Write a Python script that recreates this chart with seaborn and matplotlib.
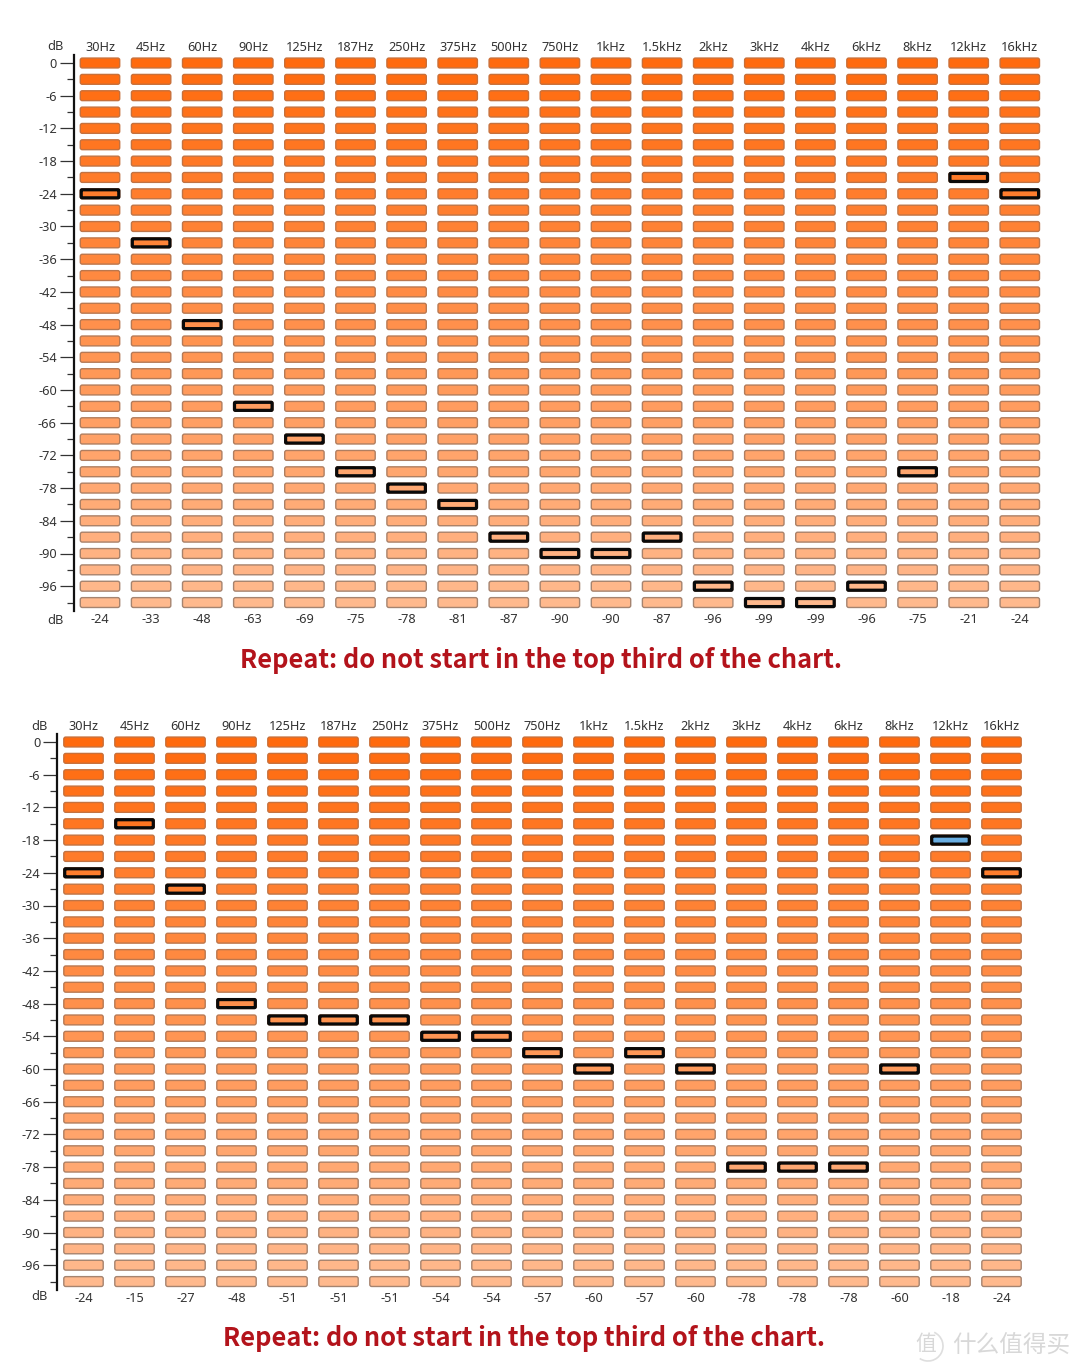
import matplotlib.pyplot as plt
import pandas as pd
import seaborn as sns
from matplotlib.markers import MarkerStyle
from matplotlib.patches import Arc, BoxStyle

sns.set_theme(style="white")
plt.rcParams["font.family"] = ["Noto Sans", "DejaVu Sans"]

bands = ["30Hz", "45Hz", "60Hz", "90Hz", "125Hz", "187Hz", "250Hz", "375Hz", "500Hz", "750Hz",
         "1kHz", "1.5kHz", "2kHz", "3kHz", "4kHz", "6kHz", "8kHz", "12kHz", "16kHz"]
levels = [0, -3, -6, -9, -12, -15, -18, -21, -24, -27, -30, -33, -36, -39, -42, -45, -48,
          -51, -54, -57, -60, -63, -66, -69, -72, -75, -78, -81, -84, -87, -90, -93, -96, -99]
major_levels = [0, -6, -12, -18, -24, -30, -36, -42, -48, -54, -60, -66, -72, -78, -84, -90, -96]
top_values = [-24, -33, -48, -63, -69, -75, -78, -81, -87, -90, -90, -87, -96, -99, -99, -96, -75, -21, -24]
bottom_values = [-24, -15, -27, -48, -51, -51, -51, -54, -54, -57, -60, -57, -60, -78, -78, -78, -60, -18, -24]
top_title = "Repeat: do not start in the top third of the chart."
bottom_title = "Repeat: do not start in the top third of the chart."
blue_band = "12kHz"  # the one blue marker, bottom chart only

W, H = 1080, 1371
CJK = ["Noto Sans CJK SC", "DejaVu Sans"]
faces = sns.blend_palette(["#ff6a0e", "#ffb98d"], len(levels), as_cmap=False).as_hex()
edges = sns.blend_palette(["#c96f38", "#a58470"], len(levels), as_cmap=False).as_hex()
face_of = dict(zip(levels, faces))
edge_of = dict(zip(levels, edges))

cell_marker = MarkerStyle(BoxStyle("Round", pad=0, rounding_size=0.05)(-0.5, -0.125, 1, 0.25, 1))
pick_marker = MarkerStyle(BoxStyle("Round", pad=0, rounding_size=0.02)(-0.5, -0.107, 1, 0.214, 1))


def draw_panel(fig, values, x0, dx, y0, title, title_x, title_y, db_low, blue=None):
    dy = 16.35
    left, right = x0 - 26.5, x0 + 18 * dx + 32
    top, bottom = y0 - 8, y0 + 33 * dy + 8
    ax = fig.add_axes([left / W, 1 - bottom / H, (right - left) / W, (bottom - top) / H])

    grid = pd.DataFrame([(i, lv) for i in range(len(bands)) for lv in levels], columns=["band", "level"])
    grid["face"] = grid["level"].map(face_of)
    sns.scatterplot(data=grid, x="band", y="level", hue="face", palette={c: c for c in faces},
                    marker=cell_marker, s=805, linewidth=1.0,
                    edgecolor=grid["level"].map(edge_of).tolist(), legend=False, ax=ax)

    picked = pd.DataFrame({"band": range(len(bands)), "level": values})
    picked["face"] = picked["level"].map(face_of)
    if blue is not None:
        picked.loc[bands.index(blue), "face"] = "#6aaee2"
    sns.scatterplot(data=picked, x="band", y="level", hue="face",
                    palette={c: c for c in picked["face"]}, marker=pick_marker, s=732,
                    linewidth=2.3, edgecolor="#0a0a0a", legend=False, ax=ax)

    ax.set_xlim((left - x0) / dx, (right - x0) / dx)
    ax.set_ylim(-(bottom - y0) / dy * 3, (y0 - top) / dy * 3)
    ax.set_xlabel("")
    ax.set_ylabel("")
    ax.patch.set_alpha(0)
    for side in ["top", "right", "bottom"]:
        ax.spines[side].set_visible(False)
    ax.spines["left"].set_linewidth(1.6)
    ax.spines["left"].set_color("#111111")

    ax.set_yticks(major_levels)
    ax.set_yticklabels([str(v) for v in major_levels])
    ax.set_yticks(levels, minor=True)
    ax.tick_params(axis="y", which="major", left=True, length=10, width=0.9, color="#333333",
                   labelsize=9.2, labelcolor="#333333", pad=2)
    ax.tick_params(axis="y", which="minor", left=True, length=5, width=0.9, color="#333333")

    ax.xaxis.tick_top()
    ax.set_xticks(range(len(bands)))
    ax.set_xticklabels(bands)
    ax.tick_params(axis="x", top=False, bottom=False, length=0, labelsize=9.2, labelcolor="#333333", pad=1)
    sec = ax.secondary_xaxis("bottom")
    sec.set_xticks(range(len(bands)))
    sec.set_xticklabels([str(v) for v in values])
    sec.spines["bottom"].set_visible(False)
    sec.tick_params(axis="x", bottom=False, length=0, labelsize=9.2, labelcolor="#333333", pad=1.6)

    fig.text((left - 18) / W, 1 - (y0 - 16) / H, "dB", fontsize=9.2, color="#333333", ha="center", va="center")
    fig.text((left - 18) / W, 1 - db_low / H, "dB", fontsize=9.2, color="#333333", ha="center", va="center")
    fig.text(title_x / W, 1 - title_y / H, title, fontsize=18.3, fontweight="bold", color="#b3131b",
             ha="center", va="center", family=CJK)


fig = plt.figure(figsize=(W / 100, H / 100), dpi=100)
draw_panel(fig, top_values, 100, 51.1, 63, top_title, 541, 661, 620)
draw_panel(fig, bottom_values, 83.5, 51.0, 742, bottom_title, 524, 1338, 1297, blue=blue_band)

# watermark bottom right
fig.text(1011 / W, 1 - 1346 / H, "什么值得买", fontsize=17, color="#d8d8d8", ha="center", va="center", family=CJK)
fig.text(926 / W, 1 - 1344 / H, "值", fontsize=15, color="#d8d8d8", ha="center", va="center", family=CJK)
fig.add_artist(Arc((928 / W, 1 - 1346 / H), 30 / W, 30 / H, theta1=-130, theta2=60,
                   transform=fig.transFigure, color="#dedede", linewidth=1.2))

fig.savefig("out.png", dpi=100, facecolor="white")
